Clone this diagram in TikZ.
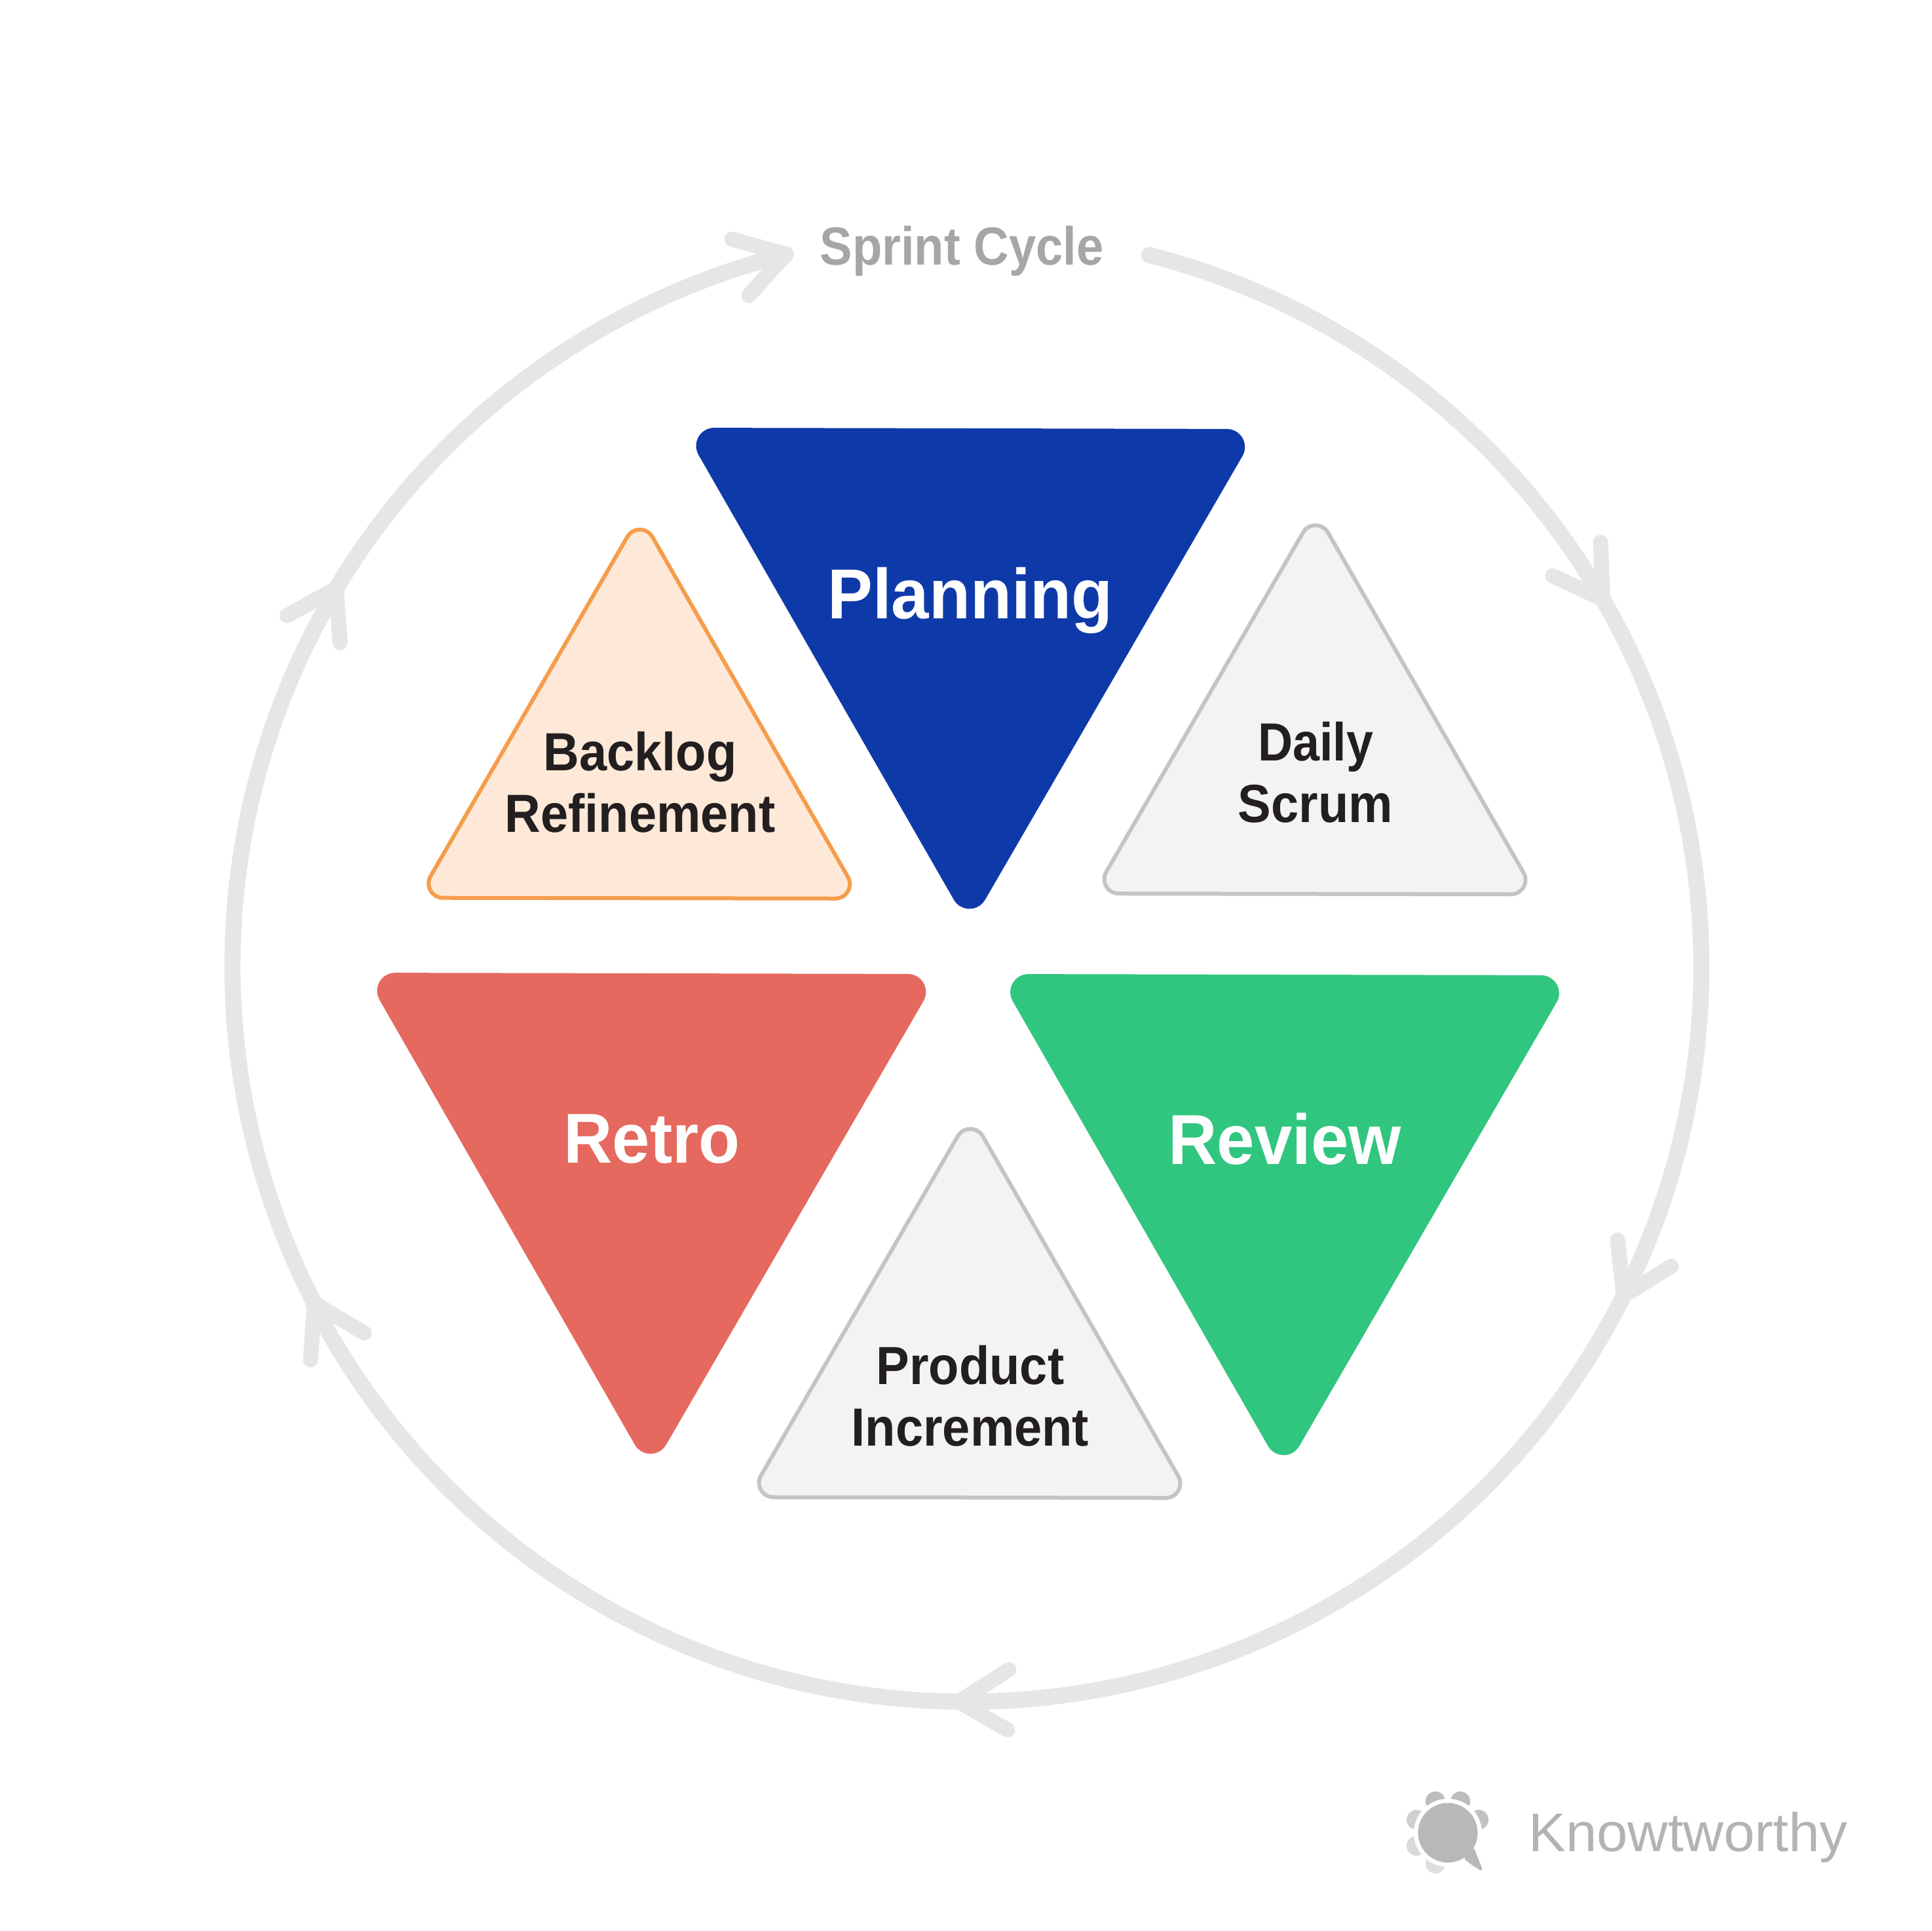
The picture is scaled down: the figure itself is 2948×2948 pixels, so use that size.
\documentclass[tikz,border=0pt]{standalone}
\usepackage{fontspec}
\setmainfont{Liberation Sans}
\tikzset{
  bigtri/.style={draw=none},
  smalltri/.style={line width=3pt,line join=round},
  ring/.style={draw=ringgray,line width=12.3pt,line cap=round},
  tiparrow/.style={draw=ringgray,line width=11.5pt,line cap=round,line join=round},
  biglabel/.style={anchor=base,text=white,font=\fontsize{54}{54}\selectfont\bfseries,inner sep=0pt,xscale=0.955},
  smalllabel/.style={anchor=base,text=inktext,font=\fontsize{41}{41}\selectfont\bfseries,inner sep=0pt,xscale=0.925},
}
\definecolor{ringgray}{HTML}{E6E6E6}
\definecolor{inktext}{HTML}{231F20}
\definecolor{bluetri}{HTML}{0E3AA9}
\definecolor{redtri}{HTML}{E5695E}
\definecolor{greentri}{HTML}{31C67F}
\definecolor{peachfill}{HTML}{FEE9D8}
\definecolor{peachline}{HTML}{F59D4C}
\definecolor{grayfill}{HTML}{F3F3F3}
\definecolor{grayline}{HTML}{C4C4C4}
% #1 style, #2 cx, #3 y of top edge; sharp width 878, corner radius 27.5
\newcommand\downtriangle[3]{%
  \begin{scope}[shift={(#2,#3)},rotate=-0.13]
  \path[#1] (-391.4,0) -- (391.4,0) arc[start angle=-90,end angle=30,radius=27.5]
    -- (23.8,719.75) arc[start angle=30,end angle=150,radius=27.5]
    -- (-415.2,41.25) arc[start angle=150,end angle=270,radius=27.5] -- cycle;
  \end{scope}}
% #1 style, #2 cx, #3 y of sharp apex; sharp width 675.2, corner radius 22
\newcommand\uptriangle[3]{%
  \begin{scope}[shift={(#2,#3)},rotate=-0.1]
  \path[#1] (19.05,33) -- (318.55,551.75) arc[start angle=-30,end angle=90,radius=22]
    -- (-299.5,584.75) arc[start angle=90,end angle=210,radius=22]
    -- (-19.05,33) arc[start angle=210,end angle=330,radius=22] -- cycle;
  \end{scope}}
\begin{document}
\begin{tikzpicture}[x=0.5pt,y=-0.5pt]
\useasboundingbox (0,0) rectangle (2948,2948);
\fill[white] (0,0) rectangle (2948,2948);
% ring
\begin{scope}[shift={(1475,1476)}]
\coordinate (s0) at (-75.6:1122);
\coordinate (t1) at (-30:1122);
\coordinate (t2) at (26.6:1122);
\coordinate (t3) at (90.6:1122);
\coordinate (t4) at (152.7:1120);
\coordinate (t5) at (211:1122);
\coordinate (t6) at (255.8:1122);
\draw[ring] (s0) arc[start angle=-75.6,end angle=-30,radius=1122];
\draw[ring] (t1) arc[start angle=-30,end angle=26.6,radius=1122];
\draw[ring] (t2) arc[start angle=26.6,end angle=90.6,radius=1122];
\draw[ring] (t3) arc[start angle=90.6,end angle=152.7,radius=1122];
\draw[ring] (t4) arc[start angle=152.7,end angle=211,radius=1122];
\draw[ring] (t5) arc[start angle=211,end angle=255.8,radius=1122];
\end{scope}
\draw[tiparrow] (2443,828) -- (t1) -- (2370,879);
\draw[tiparrow] (2469,1893) -- (t2) -- (2551,1933);
\draw[tiparrow] (1540,2549) -- (t3) -- (1538,2641);
\draw[tiparrow] (474,2076) -- (t4) -- (556,2035);
\draw[tiparrow] (438,940) -- (t5) -- (519,981);
\draw[tiparrow] (1117,365) -- (t6) -- (1143,451);
% triangles
\downtriangle{fill=bluetri,bigtri}{1481.4}{654}
\downtriangle{fill=redtri,bigtri}{994.5}{1486}
\downtriangle{fill=greentri,bigtri}{1961}{1488}
\uptriangle{fill=peachfill,draw=peachline,smalltri}{976.7}{786.5}
\uptriangle{fill=grayfill,draw=grayline,smalltri}{2008}{780}
\uptriangle{fill=grayfill,draw=grayline,smalltri}{1481}{1701.5}
% labels
\node[biglabel] (planning) at (1481,944) {Planning};
\node[biglabel] (retro) at (995,1775) {Retro};
\node[biglabel] (review) at (1961,1777) {Review};
\node[smalllabel] (backlog) at (977,1176) {Backlog};
\node[smalllabel] (refinement) at (977,1270) {Refinement};
\node[smalllabel,xscale=0.97] (daily) at (2008,1161) {Daily};
\node[smalllabel] (scrum) at (2008,1255) {Scrum};
\node[smalllabel] (product) at (1481,2113) {Product};
\node[smalllabel] (increment) at (1481,2207) {Increment};
\node[anchor=base,inner sep=0pt,xscale=0.905,text={rgb,255:red,166;green,166;blue,166},font=\fontsize{41}{41}\selectfont\bfseries] (title) at (1468,404) {Sprint Cycle};
% logo
\fill[black!26] (2191,2750) circle[radius=15];
\fill[black!26] (2229,2750) circle[radius=15];
\fill[black!19] (2162,2778) circle[radius=15];
\fill[black!24] (2257,2778) circle[radius=15];
\fill[black!15] (2162,2818) circle[radius=15];
\fill[black!13] (2191,2845) circle[radius=15];
\fill[white] (2210,2798) circle[radius=52];
\fill[black!28,rounded corners=3pt] (2249,2819) -- (2264,2857) -- (2255,2853) -- (2233,2837) -- cycle;
\fill[black!28] (2210,2798) circle[radius=45.5];
\node[anchor=base west,inner sep=0pt,xscale=1.025,text={rgb,255:red,179;green,179;blue,179},font=\fontsize{41.5}{41.5}\selectfont] (brand) at (2333,2826) {Knowtworthy};
\end{tikzpicture}
\end{document}
